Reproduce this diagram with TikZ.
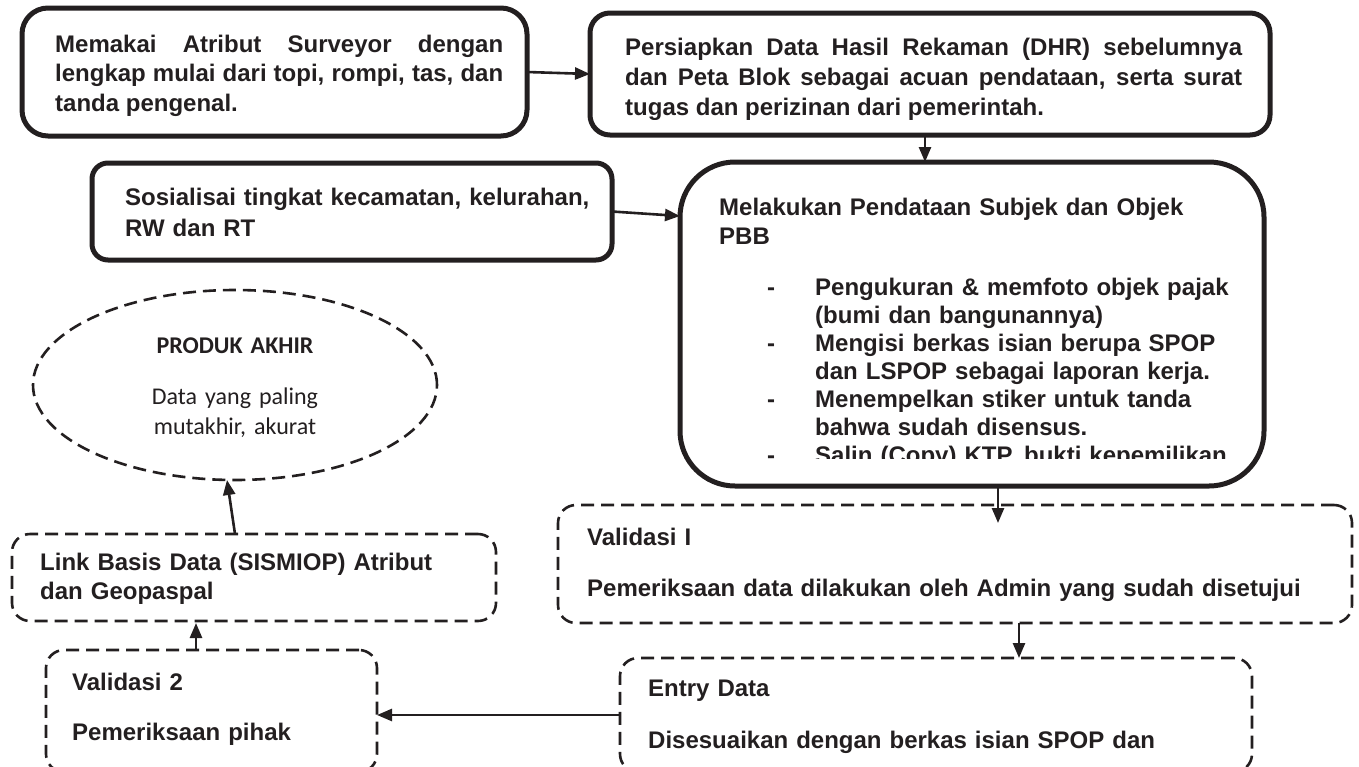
\documentclass[tikz,border=0pt]{standalone}
\usepackage{fontspec}
\setmainfont{Liberation Sans}
\newfontfamily\calib{Carlito}
\usetikzlibrary{arrows.meta,shapes.geometric}
\definecolor{ink}{RGB}{35,31,32}
\tolerance=10000 \hbadness=10000
\begin{document}
\begin{tikzpicture}[x=1pt,y=-1pt,
  solidbox/.style={draw=ink, line width=5pt, inner sep=0pt, outer sep=0pt, rectangle},
  dashbox/.style={draw=ink, line width=2.6pt, dash pattern=on 13pt off 7pt, rounded corners=18pt, inner sep=0pt, outer sep=0pt, rectangle},
  txt/.style={font=\bfseries\fontsize{24}{29.5}\selectfont, text=ink, inner sep=0pt, anchor=base west},
  conn/.style={draw=ink, line width=2.6pt, -{Triangle[length=15pt,width=12pt]}},
]
\useasboundingbox (0,0) rectangle (1359,766);
\clip (0,0) rectangle (1359,766);

% boxes
\node[solidbox, rounded corners=26pt, minimum width=505pt, minimum height=128pt] (b1) at (274.5,72) {};
\node[solidbox, rounded corners=20pt, minimum width=680pt, minimum height=122pt] (b2) at (930,74) {};
\node[solidbox, rounded corners=16pt, minimum width=520pt, minimum height=97pt] (b3) at (352,211.5) {};
\node[solidbox, rounded corners=55pt, minimum width=584pt, minimum height=324pt] (b4) at (972,324) {};
\node[dashbox, minimum width=794pt, minimum height=118pt] (v1) at (955,564) {};
\node[dashbox, minimum width=632pt, minimum height=114pt] (en) at (936,715) {};
\node[dashbox, minimum width=484pt, minimum height=87pt] (lk) at (254,577.5) {};
\node[dashbox, minimum width=331pt, minimum height=122pt] (v2) at (211.5,711) {};
\node[draw=ink, line width=2.6pt, dash pattern=on 13pt off 7pt, ellipse, inner sep=0pt, outer sep=0pt, minimum width=404pt, minimum height=190pt] (el) at (235,385) {};

% texts
\node[txt, text width=448pt, align=justify] (t1) at (55,52)
  {Memakai Atribut Surveyor dengan\linebreak lengkap mulai dari topi, rompi, tas, dan\linebreak tanda pengenal.};
\begin{scope}
\clip (600,20) rectangle (1260,119);
\node[txt, text width=617pt, align=justify, font=\bfseries\fontsize{24}{30}\selectfont] (t2) at (625,55)
  {Persiapkan Data Hasil Rekaman (DHR) sebelumnya\linebreak dan Peta Blok sebagai acuan pendataan, serta surat\linebreak tugas dan perizinan dari pemerintah.};
\end{scope}
\node[txt, text width=480pt, align=left, font=\bfseries\fontsize{24}{31}\selectfont] (t3) at (125,205)
  {Sosialisai tingkat kecamatan, kelurahan,\\RW dan RT};
\node[txt, text width=520pt, align=left, font=\bfseries\fontsize{24}{29}\selectfont] (t4) at (719,215)
  {Melakukan Pendataan Subjek dan Objek\\PBB};
\begin{scope}
\clip (790,260) rectangle (1250,458);
\node[txt, text width=430pt, align=left, font=\bfseries\fontsize{24}{28}\selectfont] (t5) at (815,295)
  {Pengukuran \& memfoto objek pajak\\(bumi dan bangunannya)\\Mengisi berkas isian berupa SPOP\\dan LSPOP sebagai laporan kerja.\\Menempelkan stiker untuk tanda\\bahwa sudah disensus.\\Salin (Copy) KTP, bukti kepemilikan};
\end{scope}
\node[txt, text width=20pt, anchor=base, align=center, font=\bfseries\fontsize{24}{28}\selectfont] (t5d) at (771,295)
  {-\\ ~ \\-\\ ~ \\-\\ ~ \\-};
\node[txt, text width=740pt, align=left] (t6) at (587,545)
  {Validasi I\\[21.5pt]Pemeriksaan data dilakukan oleh Admin yang sudah disetujui};
\node[txt, text width=580pt, align=left] (t7) at (648,696)
  {Entry Data\\[22.5pt]Disesuaikan dengan berkas isian SPOP dan};
\node[txt, text width=440pt, align=left] (t8) at (40,570)
  {Link Basis Data (SISMIOP) Atribut\\dan Geopaspal};
\node[txt, text width=290pt, align=left] (t9) at (72,690)
  {Validasi 2\\[20.5pt]Pemeriksaan pihak};
\node[txt, text width=330pt, anchor=base, align=center, font=\calib\fontsize{24}{30}\selectfont] (t10) at (235,353)
  {\textbf{PRODUK AKHIR}\\[21pt]Data yang paling\\mutakhir, akurat};

% connectors
\draw[conn] (b1.east) -- (b2.west);
\draw[conn] ([xshift=-5pt]b2.south) -- ([xshift=-5pt]b2.south |- b4.north);
\draw[conn] (b3.east) -- ([yshift=108pt]b4.west);
\draw[conn] ([xshift=26pt]b4.south) -- ([xshift=43pt,yshift=-18pt]v1.north);
\draw[conn] ([xshift=64pt]v1.south) -- ([xshift=64pt]v1.south |- en.north);
\draw[conn] (en.west) -- (en.west -| v2.east);
\draw[conn] ([xshift=-15.5pt]v2.north) -- ([xshift=-15.5pt,yshift=-2pt]v2.north |- lk.south);
\draw[conn] ([xshift=-19pt]lk.north) -- ([xshift=-8pt]el.south);
\end{tikzpicture}
\end{document}
